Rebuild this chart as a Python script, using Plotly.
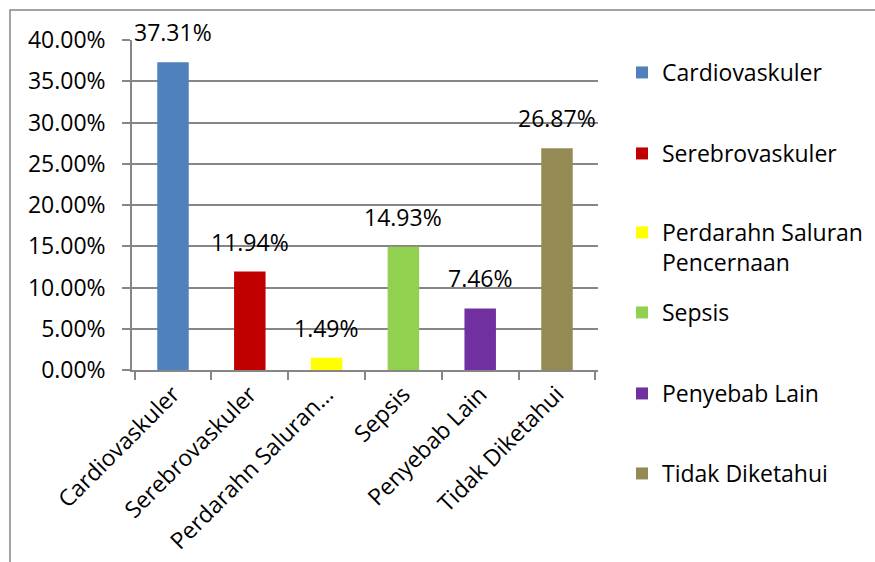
import plotly.graph_objects as go

# Penyebab kematian (proporsi)
categories = ["Cardiovaskuler", "Serebrovaskuler", "Perdarahn Saluran Pencernaan",
              "Sepsis", "Penyebab Lain", "Tidak Diketahui"]
values = [0.3731, 0.1194, 0.0149, 0.1493, 0.0746, 0.2687]
tick_labels = ["Cardiovaskuler", "Serebrovaskuler", "Perdarahn Saluran…",
               "Sepsis", "Penyebab Lain", "Tidak Diketahui"]
legend_names = ["Cardiovaskuler", "Serebrovaskuler", "Perdarahn Saluran<br>Pencernaan",
                "Sepsis", "Penyebab Lain", "Tidak Diketahui"]
colors = ["#4F81BD", "#C00000", "#FFFF00", "#92D050", "#7030A0", "#948A54"]

FONT = "Open Sans"
FS = 23
GRID = "#868686"

W, H = 875, 562
L, R, T, B = 132, 277, 40, 192
pw, ph = W - L - R, H - T - B


def px_x(px):
    return (px - L) / pw


def px_y(py):
    return (H - B - py) / ph


fig = go.Figure()
legend_y = [72, 153, 232, 312, 393, 473]
layout_legends = {}
for i, (cat, val, name, col) in enumerate(zip(categories, values, legend_names, colors)):
    key = "legend" if i == 0 else f"legend{i + 1}"
    fig.add_trace(go.Bar(
        x=[cat], y=[val], name=name, marker=dict(color=col, line=dict(width=0)),
        width=0.41, legend=key, showlegend=True, cliponaxis=False,
    ))
    layout_legends[key] = dict(
        x=px_x(622), y=px_y(legend_y[i] - 21), xanchor="left", yanchor="top",
        valign="top", bgcolor="rgba(0,0,0,0)",
        font=dict(family=FONT, size=FS, color="#000000"),
    )
    fig.add_annotation(
        x=cat, y=val, text=f"{val * 100:.2f}%", showarrow=False,
        yanchor="bottom", yshift=12,
        font=dict(family=FONT, size=FS, color="#000000"),
    )

fig.update_layout(
    width=W, height=H,
    margin=dict(l=L, r=R, t=T, b=B, pad=0, autoexpand=False),
    paper_bgcolor="white", plot_bgcolor="white",
    barmode="overlay",
    font=dict(family=FONT, size=FS, color="#000000"),
    **layout_legends,
)

fig.update_xaxes(
    type="category", categoryorder="array", categoryarray=categories,
    tickvals=categories, ticktext=tick_labels, tickangle=-45, automargin=False,
    tickson="boundaries", ticks="outside", ticklen=8, tickcolor=GRID, tickwidth=1.5,
    showline=True, linecolor=GRID, linewidth=1.5, showgrid=False,
    tickfont=dict(family=FONT, size=FS, color="#000000"),
)
fig.update_yaxes(
    range=[0, 0.40], dtick=0.05, tickformat=".2%", automargin=False,
    ticks="outside", ticklen=8, tickcolor=GRID, tickwidth=1.5, ticklabelstandoff=12,
    showline=True, linecolor=GRID, linewidth=1.5,
    showgrid=True, gridcolor=GRID, gridwidth=1.5, zeroline=False,
    tickfont=dict(family=FONT, size=FS, color="#000000"),
)

# outer chart frame
fig.add_shape(
    type="rect", xref="paper", yref="paper",
    x0=px_x(10), x1=px_x(900), y0=px_y(600), y1=px_y(10),
    line=dict(color=GRID, width=1.5), fillcolor="rgba(0,0,0,0)", layer="below",
)

fig.write_html("out.html")
